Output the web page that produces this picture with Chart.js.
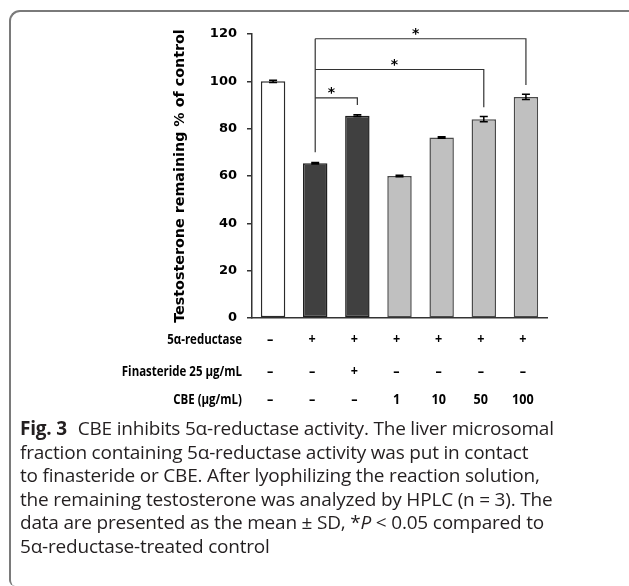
<!DOCTYPE html>
<html>
<head>
<meta charset="utf-8">
<script src="https://cdn.jsdelivr.net/npm/chart.js@4"></script>
<style>
  html, body { margin: 0; padding: 0; background: #fff; }
  #wrap { position: relative; width: 629px; height: 586px; overflow: hidden; }
  #frame {
    position: absolute; left: 9px; top: 10px; width: 640px; height: 574px;
    border-left: 2px solid #7a7a7a; border-top: 2px solid #7a7a7a;
    border-top-left-radius: 11px; border-bottom-left-radius: 6px;
  }
  #chart { position: absolute; left: 0; top: 0; }
  #caption {
    position: absolute; left: 20px; top: 417px; width: 605px;
    font-family: "Open Sans", sans-serif; font-size: 19px; line-height: 23.6px;
    letter-spacing: -0.2px; color: #231f20; white-space: nowrap;
  }
  #caption b { font-weight: 700; margin-right: 6px; }
</style>
</head>
<body>
<div id="wrap">
  <div id="frame"></div>
  <canvas id="chart" width="629" height="420"></canvas>
  <div id="caption"><b>Fig. 3</b> CBE inhibits 5α-reductase activity. The liver microsomal<br>fraction containing 5α-reductase activity was put in contact<br>to finasteride or CBE. After lyophilizing the reaction solution,<br>the remaining testosterone was analyzed by HPLC (n&nbsp;=&nbsp;3). The<br>data are presented as the mean&nbsp;±&nbsp;SD, *<i>P</i>&nbsp;&lt;&nbsp;0.05 compared to<br>5α-reductase-treated control</div>
</div>
<script>
var groups = ["Control", "5α-R", "5α-R + Fin", "CBE 1", "CBE 10", "CBE 50", "CBE 100"];
var meanValues = [100, 65.4, 85.5, 60.0, 76.3, 84.0, 93.4];
var sdValues = [0.5, 0.3, 0.4, 0.3, 0.3, 1.1, 1.1];
var yTicks = [0, 20, 40, 60, 80, 100, 120];

var rowLabels = ["5α-reductase", "Finasteride 25 μg/mL", "CBE (μg/mL)"];
var rowReductase = ["–", "+", "+", "+", "+", "+", "+"];
var rowFinasteride = ["–", "–", "+", "–", "–", "–", "–"];
var rowCbe = ["–", "–", "–", "1", "10", "50", "100"];

// significance brackets: [from group, to group, bracket height, drop end]
var brackets = [
    [1, 6, 118, 98.5],
    [1, 5, 105, 89],
    [1, 2, 93, 90]
];
var bracketStart = 70;

var fillColors = ["#ffffff", "#404040", "#404040", "#c0c0c0", "#c0c0c0", "#c0c0c0", "#c0c0c0"];
var edgeColors = ["#2a2a2a", "#1e1e1e", "#1e1e1e", "#4a4a4a", "#4a4a4a", "#4a4a4a", "#4a4a4a"];

function narrowText(ctx, text, x, y, align, squeeze) {
    var w = ctx.measureText(text).width * squeeze;
    var left = align === "right" ? x - w : (align === "center" ? x - w / 2 : x);
    ctx.save();
    ctx.translate(left, y);
    ctx.scale(squeeze, 1);
    ctx.textAlign = "left";
    ctx.fillText(text, 0, 0);
    ctx.restore();
}

var extras = {
    id: "extras",
    afterDatasetsDraw: function (chart) {
        var ctx = chart.ctx;
        var x = chart.scales.x;
        var y = chart.scales.y;
        ctx.save();

        // error bars
        ctx.strokeStyle = "#000";
        ctx.lineWidth = 1.5;
        meanValues.forEach(function (v, i) {
            var px = x.getPixelForValue(i);
            var top = y.getPixelForValue(v + sdValues[i]);
            var bot = y.getPixelForValue(v - sdValues[i]);
            ctx.beginPath();
            ctx.moveTo(px, top); ctx.lineTo(px, bot);
            ctx.moveTo(px - 4, top); ctx.lineTo(px + 4, top);
            ctx.moveTo(px - 4, bot); ctx.lineTo(px + 4, bot);
            ctx.stroke();
        });

        // brackets
        ctx.strokeStyle = "#333";
        ctx.lineWidth = 1.2;
        var x0 = x.getPixelForValue(1);
        ctx.beginPath();
        ctx.moveTo(x0, y.getPixelForValue(bracketStart));
        ctx.lineTo(x0, y.getPixelForValue(brackets[0][2]));
        ctx.stroke();
        ctx.fillStyle = "#000";
        ctx.font = "bold 14px 'DejaVu Sans'";
        ctx.textAlign = "center";
        ctx.textBaseline = "alphabetic";
        brackets.forEach(function (b) {
            var xa = x.getPixelForValue(b[0]);
            var xb = x.getPixelForValue(b[1]);
            var yh = y.getPixelForValue(b[2]);
            ctx.beginPath();
            ctx.moveTo(xa, yh); ctx.lineTo(xb, yh);
            ctx.lineTo(xb, y.getPixelForValue(b[3]));
            ctx.stroke();
            ctx.fillText("*", (xa + xb) / 2 - 5, yh - 1);
        });

        // treatment table
        var rows = [rowReductase, rowFinasteride, rowCbe];
        var rowY = [340, 372, 400];
        ctx.font = "bold 14px 'Open Sans'";
        ctx.textBaseline = "middle";
        rows.forEach(function (r, k) {
            narrowText(ctx, rowLabels[k], 242, rowY[k], "right", 0.82);
            r.forEach(function (s, i) {
                narrowText(ctx, s, x.getPixelForValue(i) - 3, rowY[k], "center", 0.9);
            });
        });
        ctx.restore();
    }
};

new Chart(document.getElementById("chart"), {
    type: "bar",
    data: {
        labels: groups,
        datasets: [{
            data: meanValues,
            backgroundColor: fillColors,
            borderColor: edgeColors,
            borderWidth: 1.5,
            borderSkipped: false,
            barPercentage: 0.58,
            categoryPercentage: 1.0
        }]
    },
    options: {
        responsive: false,
        animation: false,
        layout: { padding: { left: 168, right: 82, top: 34, bottom: 102 } },
        plugins: { legend: { display: false }, tooltip: { enabled: false } },
        scales: {
            x: {
                ticks: { display: false },
                grid: { display: false, drawTicks: false },
                border: { color: "#333", width: 1.5 },
                afterFit: function (s) { s.height = 0; }
            },
            y: {
                min: 0,
                max: 120,
                afterBuildTicks: function (s) { s.ticks = yTicks.map(function (v) { return { value: v }; }); },
                ticks: { color: "#000", font: { family: "DejaVu Sans", size: 13, weight: "bold" }, padding: 10 },
                grid: { drawOnChartArea: false, tickLength: 5, color: "#333", lineWidth: 1.5 },
                border: { color: "#333", width: 1.5 },
                title: {
                    display: true,
                    text: "Testosterone remaining % of control",
                    color: "#000",
                    font: { family: "DejaVu Sans", size: 14.3, weight: "bold" },
                    padding: { top: 4, bottom: 4 }
                },
                afterFit: function (s) { s.width = 84; }
            }
        }
    },
    plugins: [extras]
});
</script>
</body>
</html>
